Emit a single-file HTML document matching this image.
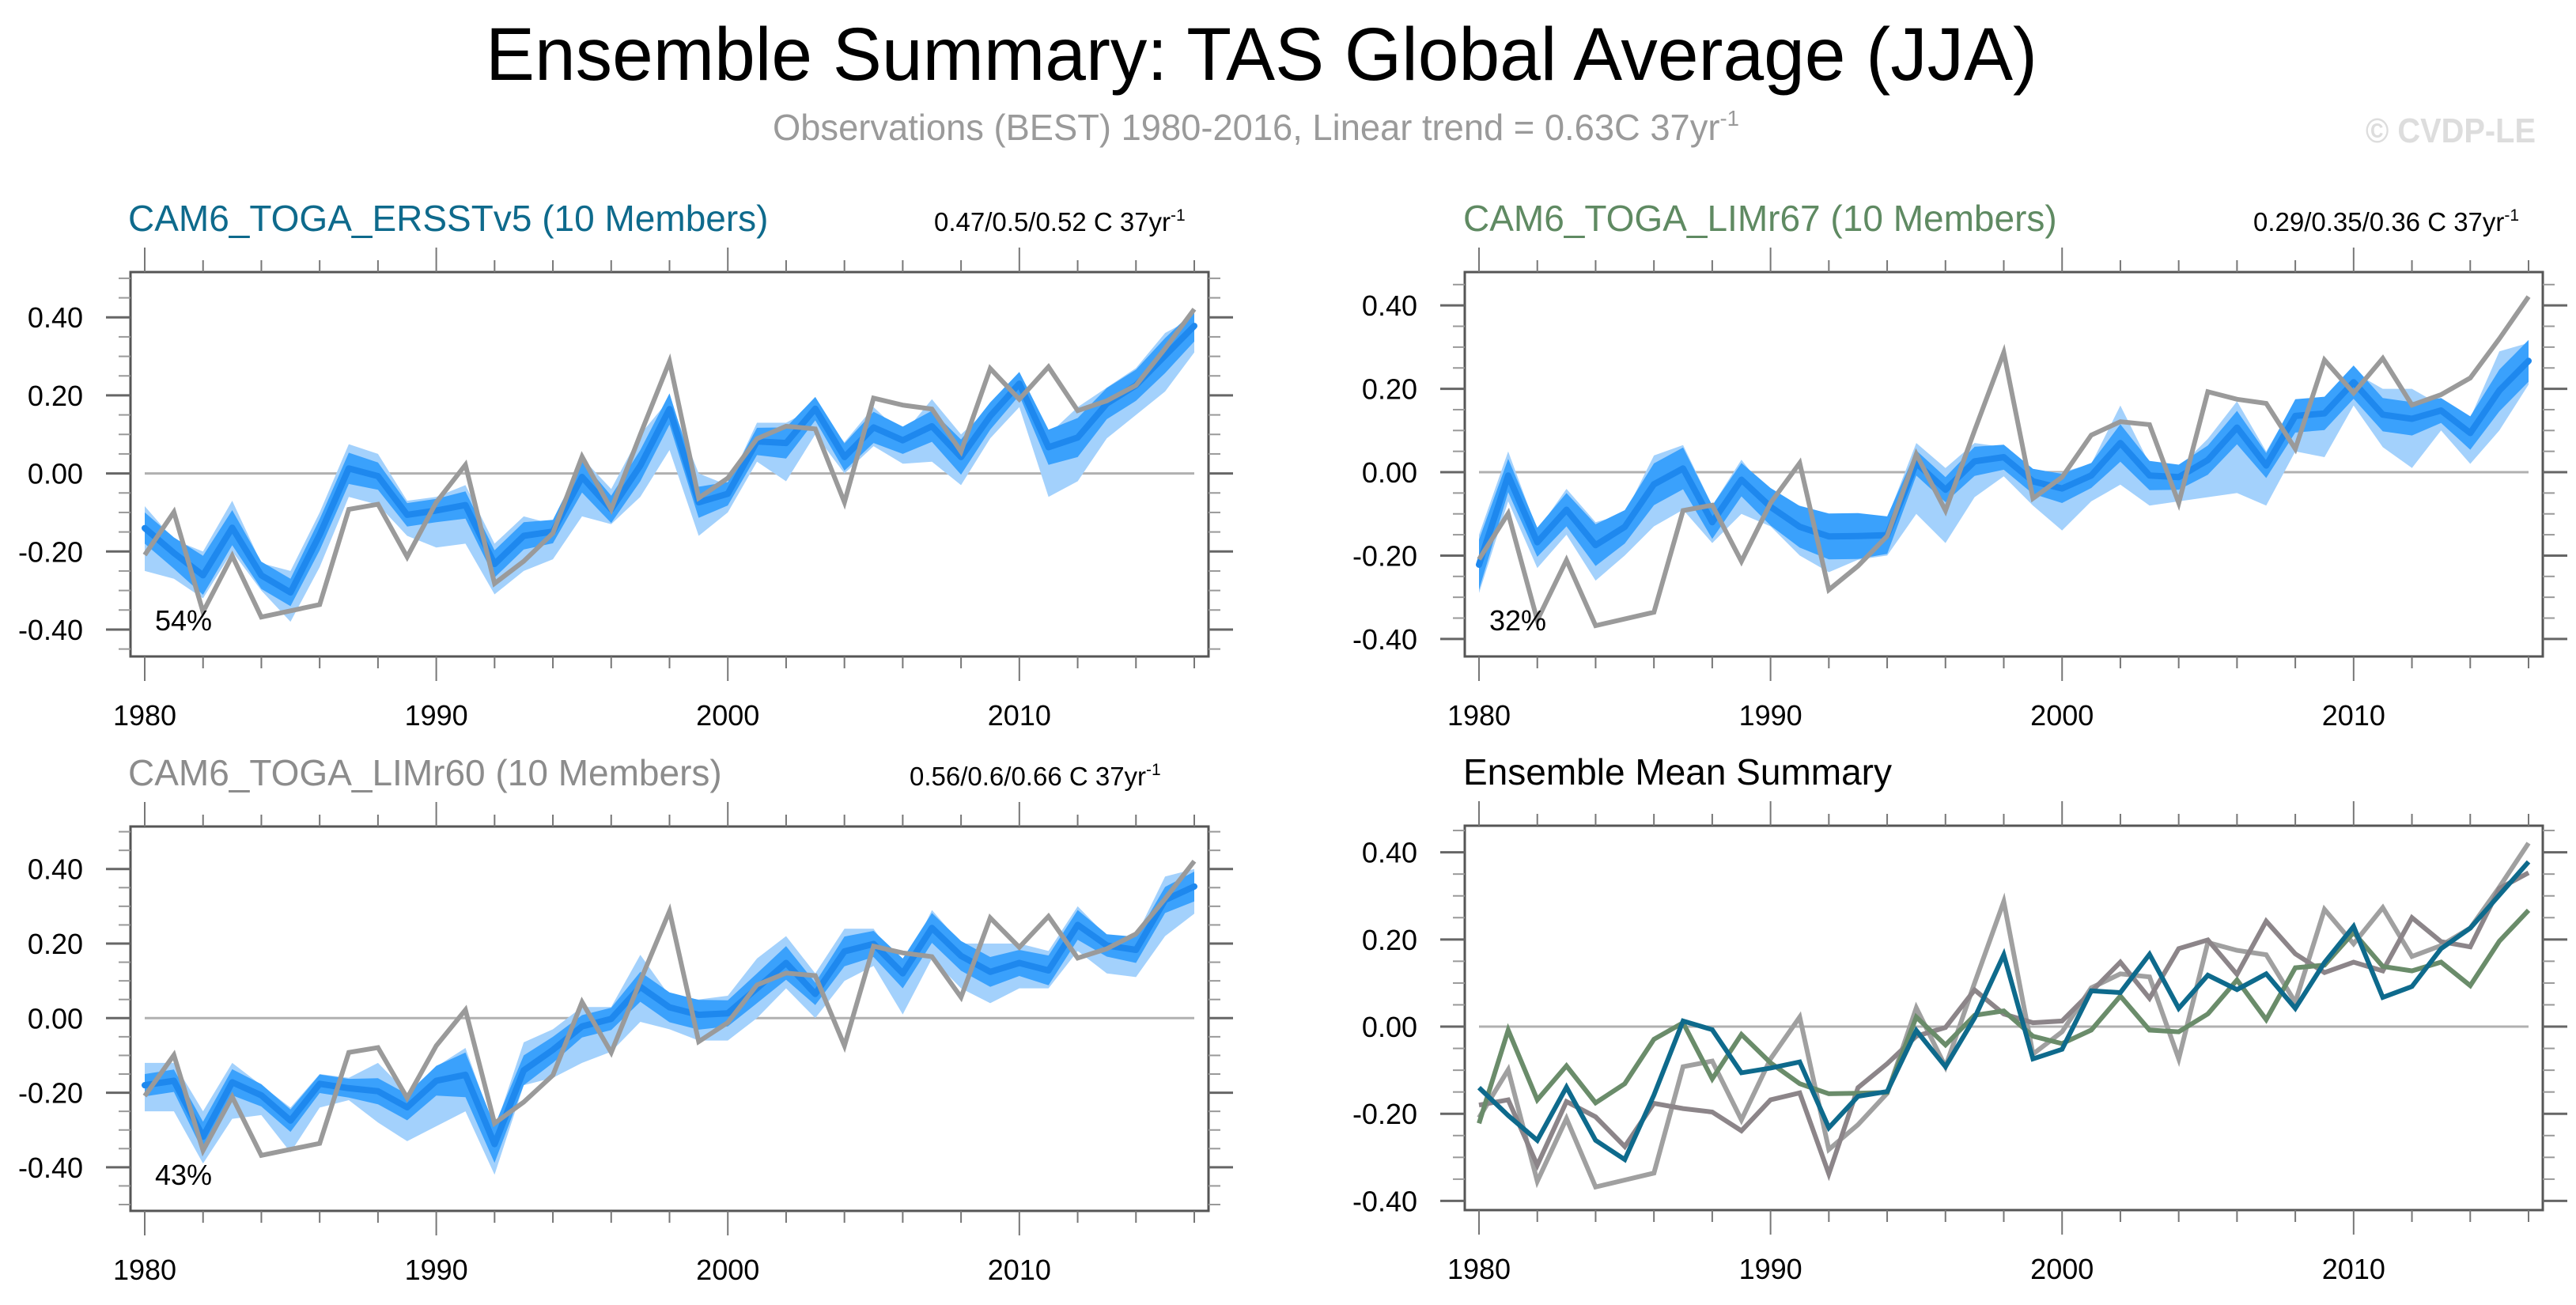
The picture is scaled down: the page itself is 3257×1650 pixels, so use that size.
<!DOCTYPE html>
<html><head><meta charset="utf-8"><style>
html,body{margin:0;padding:0;background:#fff;}
svg{display:block;font-family:"Liberation Sans",Arial,sans-serif;}
</style></head><body>
<svg id="fig" width="3257" height="1650" viewBox="0 0 3257 1650" xmlns="http://www.w3.org/2000/svg">
<rect width="3257" height="1650" fill="#fff"/>
<text x="614" y="101" font-size="95" textLength="1962" lengthAdjust="spacingAndGlyphs">Ensemble Summary: TAS Global Average (JJA)</text>
<text x="977" y="177" font-size="46" fill="#9a9a9a" textLength="1222" lengthAdjust="spacingAndGlyphs">Observations (BEST) 1980-2016, Linear trend = 0.63C 37yr<tspan dy="-18" font-size="28">-1</tspan></text>
<text x="2991" y="180" font-size="44" font-weight="bold" fill="#dddddd" textLength="215" lengthAdjust="spacingAndGlyphs">© CVDP-LE</text>
<g id="panels"></g>
</svg>
<script>
const years = [1980,1981,1982,1983,1984,1985,1986,1987,1988,1989,1990,1991,1992,1993,1994,1995,1996,1997,1998,1999,2000,2001,2002,2003,2004,2005,2006,2007,2008,2009,2010,2011,2012,2013,2014,2015,2016];
const obs = [-0.209,-0.099,-0.355,-0.211,-0.368,-0.352,-0.336,-0.092,-0.079,-0.214,-0.074,0.022,-0.282,-0.225,-0.153,0.043,-0.092,0.10,0.287,-0.063,-0.012,0.089,0.121,0.114,-0.074,0.193,0.175,0.165,0.056,0.269,0.19,0.273,0.161,0.186,0.226,0.32,0.421];

const meanA = [-0.14,-0.204,-0.261,-0.139,-0.261,-0.305,-0.157,0.013,-0.007,-0.106,-0.095,-0.081,-0.232,-0.16,-0.149,-0.009,-0.092,0.02,0.165,-0.074,-0.052,0.082,0.078,0.166,0.042,0.118,0.085,0.121,0.042,0.147,0.23,0.067,0.092,0.179,0.226,0.302,0.378];
const innerWA = [0.04,0.04,0.05,0.045,0.035,0.035,0.04,0.04,0.035,0.03,0.03,0.035,0.035,0.035,0.03,0.04,0.035,0.04,0.04,0.04,0.03,0.035,0.04,0.03,0.035,0.04,0.035,0.04,0.045,0.035,0.03,0.045,0.05,0.04,0.04,0.045,0.04];
const loA = [-0.25,-0.27,-0.32,-0.2,-0.3,-0.38,-0.24,-0.06,-0.08,-0.16,-0.19,-0.18,-0.31,-0.25,-0.22,-0.11,-0.13,-0.06,0.06,-0.16,-0.1,0.03,-0.02,0.1,0.0,0.07,0.025,0.03,-0.03,0.09,0.17,-0.06,-0.02,0.09,0.15,0.21,0.31];
const hiA = [-0.084,-0.17,-0.2,-0.07,-0.23,-0.25,-0.1,0.075,0.05,-0.07,-0.06,-0.03,-0.18,-0.11,-0.13,0.04,-0.04,0.1,0.19,0.0,-0.03,0.13,0.13,0.17,0.08,0.17,0.1,0.19,0.1,0.17,0.25,0.1,0.17,0.22,0.27,0.36,0.4];

const meanB = [-0.222,-0.008,-0.168,-0.09,-0.175,-0.131,-0.029,0.009,-0.12,-0.018,-0.083,-0.131,-0.154,-0.153,-0.151,0.022,-0.042,0.026,0.036,-0.022,-0.039,-0.008,0.07,-0.008,-0.012,0.029,0.107,0.016,0.135,0.141,0.216,0.138,0.128,0.148,0.094,0.196,0.267];
const innerWB = [0.06,0.04,0.035,0.04,0.05,0.04,0.05,0.05,0.04,0.04,0.045,0.05,0.055,0.055,0.045,0.03,0.03,0.035,0.03,0.03,0.035,0.03,0.045,0.035,0.03,0.035,0.04,0.03,0.04,0.04,0.04,0.04,0.04,0.03,0.04,0.05,0.05];
const loB = [-0.29,-0.07,-0.23,-0.15,-0.26,-0.2,-0.13,-0.09,-0.17,-0.1,-0.13,-0.2,-0.24,-0.21,-0.2,-0.1,-0.17,-0.06,-0.01,-0.08,-0.14,-0.07,-0.03,-0.08,-0.07,-0.06,-0.05,-0.08,0.05,0.036,0.16,0.06,0.01,0.1,0.02,0.1,0.21];
const hiB = [-0.15,0.05,-0.14,-0.04,-0.12,-0.1,0.04,0.065,-0.08,0.03,-0.06,-0.08,-0.1,-0.11,-0.11,0.07,0.01,0.07,0.06,0.0,0.0,0.02,0.16,0.02,0.01,0.08,0.17,0.05,0.17,0.18,0.24,0.2,0.2,0.16,0.13,0.29,0.31];

const meanC = [-0.18,-0.168,-0.318,-0.172,-0.207,-0.275,-0.176,-0.188,-0.196,-0.239,-0.168,-0.152,-0.338,-0.14,-0.085,-0.022,-0.002,0.084,0.029,0.009,0.013,0.08,0.148,0.065,0.179,0.199,0.12,0.242,0.167,0.124,0.148,0.128,0.25,0.195,0.183,0.317,0.353];
const innerWC = [0.03,0.03,0.04,0.035,0.03,0.03,0.025,0.025,0.035,0.035,0.04,0.06,0.05,0.04,0.035,0.03,0.03,0.04,0.04,0.04,0.035,0.04,0.045,0.03,0.04,0.035,0.04,0.04,0.04,0.04,0.035,0.04,0.04,0.03,0.035,0.035,0.04];
const loC = [-0.25,-0.25,-0.39,-0.27,-0.26,-0.36,-0.24,-0.22,-0.28,-0.33,-0.29,-0.25,-0.42,-0.18,-0.16,-0.12,-0.09,-0.01,-0.03,-0.06,-0.06,0.0,0.08,0.0,0.1,0.14,0.01,0.16,0.08,0.04,0.08,0.08,0.18,0.12,0.11,0.22,0.28];
const hiC = [-0.12,-0.12,-0.25,-0.12,-0.18,-0.24,-0.15,-0.16,-0.12,-0.2,-0.13,-0.08,-0.3,-0.065,-0.03,0.03,0.03,0.17,0.06,0.05,0.06,0.16,0.22,0.12,0.24,0.24,0.13,0.29,0.2,0.2,0.2,0.18,0.3,0.22,0.22,0.38,0.4];

const yTicks = [-0.4,-0.2,0,0.2,0.4];
const yTickLabels = ["-0.40","-0.20","0.00","0.20","0.40"];
const xTicks = [1980,1990,2000,2010];

const NS = "http://www.w3.org/2000/svg";
const root = document.getElementById('panels');
function mk(tag, attrs, parent){const e=document.createElementNS(NS,tag);for(const k in attrs)e.setAttribute(k,attrs[k]);(parent||root).appendChild(e);return e;}

const panels = [
 {id:'ersstv5', L:165,R:1528,T:344,B:830,ymin:-0.469,ymax:0.516,x0:183,x1:1510,title:'CAM6_TOGA_ERSSTv5 (10 Members)',tcol:'#0e6a8c',trend:'0.47/0.5/0.52 C 37yr',tx:1181,pct:'54%',mean:meanA,w:innerWA,lo:loA,hi:hiA},
 {id:'limr67', L:1852,R:3215,T:344,B:830,ymin:-0.442,ymax:0.48,x0:1870,x1:3197,title:'CAM6_TOGA_LIMr67 (10 Members)',tcol:'#5f8a62',trend:'0.29/0.35/0.36 C 37yr',tx:2849,pct:'32%',mean:meanB,w:innerWB,lo:loB,hi:hiB},
 {id:'limr60', L:165,R:1528,T:1045,B:1531,ymin:-0.517,ymax:0.514,x0:183,x1:1510,title:'CAM6_TOGA_LIMr60 (10 Members)',tcol:'#8c8c8c',trend:'0.56/0.6/0.66 C 37yr',tx:1150,pct:'43%',mean:meanC,w:innerWC,lo:loC,hi:hiC},
 {id:'summary', L:1852,R:3215,T:1044,B:1530,ymin:-0.421,ymax:0.461,x0:1870,x1:3197,title:'Ensemble Mean Summary',tcol:'#000',summary:true}
];

panels.forEach(p=>{
  const g = mk('g',{});
  
  
  const xs = yr => p.x0 + (yr-1980)*(p.x1-p.x0)/36;
  const ys = v => p.B - (v-p.ymin)*(p.B-p.T)/(p.ymax-p.ymin);
  const t = mk('text',{x:(p.id==='ersstv5'||p.id==='limr60')?162:1850,y:p.T-52,'font-size':46,fill:p.tcol},g);
  t.textContent=p.title;
  
  
  if(p.trend){
    const tr = mk('text',{x:p.tx,y:p.T-52,'font-size':33},g);
    tr.textContent=p.trend;
    const sp = mk('tspan',{dy:-13,'font-size':21},tr); sp.textContent='-1';
    
    
  }
  const zl = mk('line',{x1:xs(1980),x2:xs(2016),y1:ys(0),y2:ys(0),stroke:'#b0b0b0','stroke-width':3},g);
  
  
  const pts = (arr)=>arr.map((v,i)=>xs(years[i]).toFixed(1)+','+ys(v).toFixed(1));
  if(!p.summary){
    const outer = pts(p.hi).concat(pts(p.lo).reverse()).join(' ');
    const ob = mk('polygon',{points:outer,fill:'#a3d1fc'},g);
    
    
    const ih = p.mean.map((v,i)=>v+p.w[i]);
    const il = p.mean.map((v,i)=>v-p.w[i]);
    const ib = mk('polygon',{points:pts(ih).concat(pts(il).reverse()).join(' '),fill:'#3aa1fc'},g);
    
    
    const ml = mk('polyline',{points:pts(p.mean).join(' '),fill:'none',stroke:'#1e88ee','stroke-width':8,'stroke-linejoin':'round','stroke-linecap':'round'},g);
    
    
    const ol = mk('polyline',{points:pts(obs).join(' '),fill:'none',stroke:'#9a9a9a','stroke-width':6,'stroke-linejoin':'miter'},g);
    
    
    const pc = mk('text',{x:p.L+31,y:p.B-33,'font-size':36},g);
    pc.textContent=p.pct;
    
    
  } else {
    const series = [[obs,'#a0a0a0','observations-line'],[meanC,'#8c8589','limr60-mean-line'],[meanB,'#6a8c6a','limr67-mean-line'],[meanA,'#0e6a8c','ersstv5-mean-line']];
    series.forEach(s=>{
      const l = mk('polyline',{points:pts(s[0]).join(' '),fill:'none',stroke:s[1],'stroke-width':6,'stroke-linejoin':'miter'},g);
      
      
    });
  }
  const fr = mk('rect',{x:p.L,y:p.T,width:p.R-p.L,height:p.B-p.T,fill:'none',stroke:'#555','stroke-width':3},g);
  
  
  for(let yr=1980; yr<=2016; yr+=2){
    const major = (yr%10===0); const len = major?31:15;
    const x = xs(yr);
    mk('line',{x1:x,x2:x,y1:p.B,y2:p.B+len,stroke:'#777','stroke-width':2},g);
    mk('line',{x1:x,x2:x,y1:p.T,y2:p.T-len,stroke:'#777','stroke-width':2},g);
  }
  xTicks.forEach(yr=>{
    const tl = mk('text',{x:xs(yr),y:p.B+87,'font-size':36,'text-anchor':'middle'},g);
    tl.textContent=String(yr);
    
    
  });
  for(let k=-10;k<=10;k++){
    const v=k*0.05; if(v<p.ymin||v>p.ymax) continue;
    const major=(k%4===0); const len=major?31:15;
    const y=ys(v);
    mk('line',{x1:p.L,x2:p.L-len,y1:y,y2:y,stroke:major?'#666':'#999','stroke-width':major?3:2},g);
    mk('line',{x1:p.R,x2:p.R+len,y1:y,y2:y,stroke:major?'#666':'#999','stroke-width':major?3:2},g);
  }
  yTicks.forEach((v,i)=>{
    const tl = mk('text',{x:p.L-60,y:ys(v)+13,'font-size':36,'text-anchor':'end'},g);
    tl.textContent=yTickLabels[i];
    
    
  });
});
</script>
</body></html>
